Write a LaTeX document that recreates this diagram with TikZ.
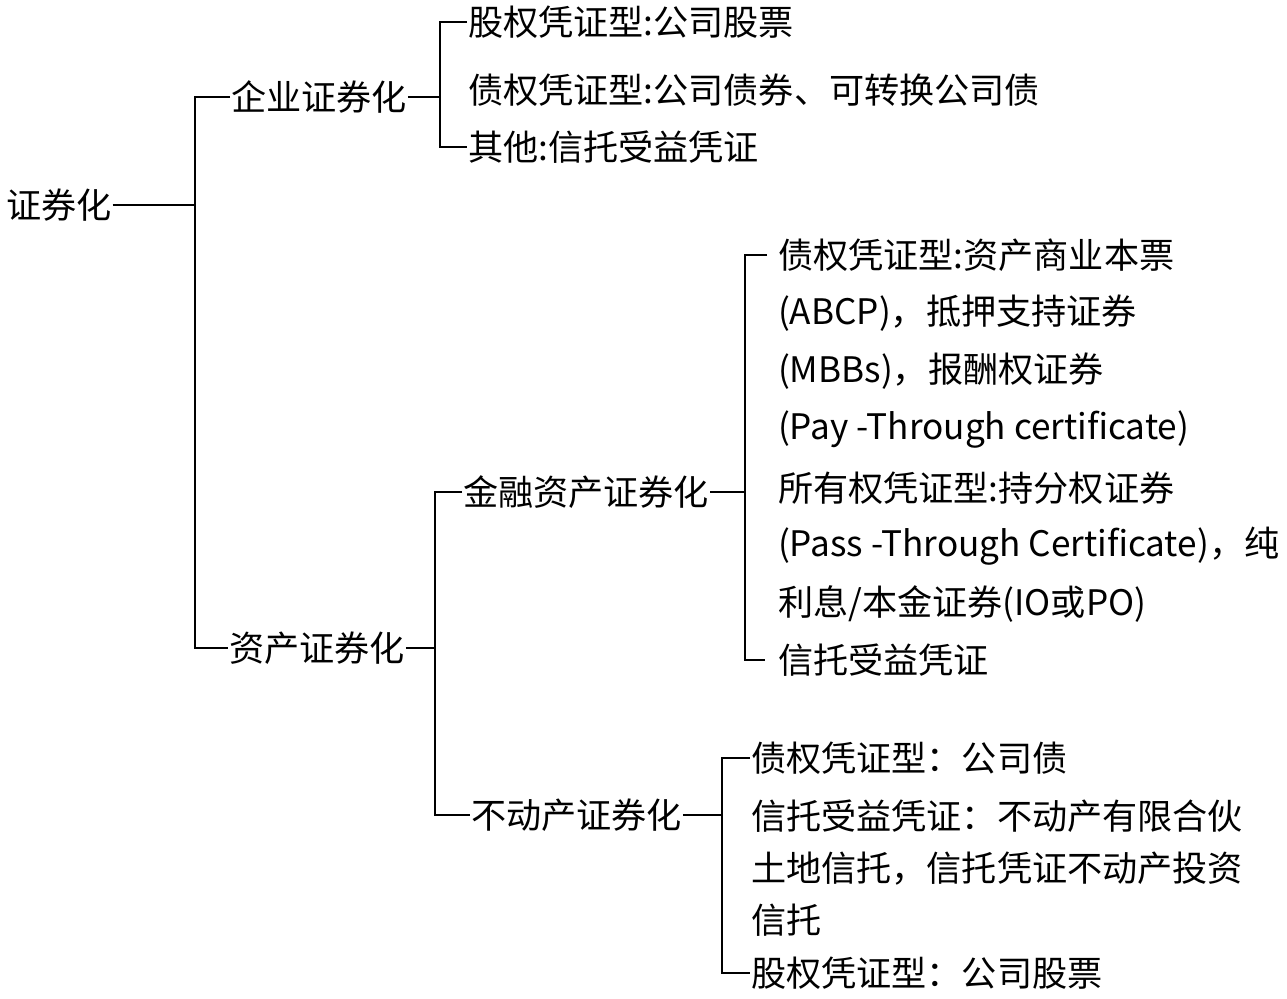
\documentclass[tikz,border=0pt]{standalone}
\usepackage{fontspec}
\setmainfont{Noto Sans CJK SC}
\begin{document}
\begin{tikzpicture}[x=0.02cm,y=-0.02cm,line width=1.2pt,
  txt/.style={anchor=west,inner sep=0pt,font=\fontsize{20}{24}\selectfont}]
  \useasboundingbox (0,0) rectangle (1287,998);
  % root
  \node[txt] (root) at (5,205) {证券化};
  \node[txt] (qy) at (230,97) {企业证券化};
  \node[txt] (zc) at (228,648) {资产证券化};
  \coordinate (k0) at (195,0);
  \draw (root.east) -- (root.east -| k0);
  \draw (qy.west) -- (qy.west -| k0) -- (zc.west -| k0) -- (zc.west);
  % enterprise
  \node[txt] (q1) at (467,22) {股权凭证型:公司股票};
  \node[txt] (q2) at (467,90) {债权凭证型:公司债券、可转换公司债};
  \node[txt] (q3) at (467,147) {其他:信托受益凭证};
  \coordinate (k1) at (440,0);
  \draw (qy.east) -- (qy.east -| k1);
  \draw (q1.west) -- (q1.west -| k1) -- (q3.west -| k1) -- (q3.west);
  % asset
  \node[txt] (jr) at (462,492) {金融资产证券化};
  \node[txt] (bd) at (470,815) {不动产证券化};
  \coordinate (k2) at (435,0);
  \draw (zc.east) -- (zc.east -| k2);
  \draw (jr.west) -- (jr.west -| k2) -- (bd.west -| k2) -- (bd.west);
  % financial
  \node[txt] (j1) at (777,255) {债权凭证型:资产商业本票};
  \node[txt] (j2) at (777,313) {(ABCP)，抵押支持证券};
  \node[txt] (j3) at (777,371) {(MBBs)，报酬权证券};
  \node[txt] (j4) at (777,430) {(Pay -Through certificate)};
  \node[txt] (j5) at (777,488) {所有权凭证型:持分权证券};
  \node[txt] (j6) at (777,546) {(Pass -Through Certificate)，纯};
  \node[txt] (j7) at (777,604) {利息/本金证券(IO或PO)};
  \node[txt] (j8) at (777,660) {信托受益凭证};
  \coordinate (k3) at (745,0);
  \draw (jr.east) -- (jr.east -| k3);
  \draw (j1.west) ++(-10,0) coordinate (j1t) -- (j1t -| k3) -- (j8.west -| k3) -- ++(20,0);
  % real estate
  \node[txt] (b1) at (750,758) {债权凭证型：公司债};
  \node[txt] (b2) at (750,816) {信托受益凭证：不动产有限合伙};
  \node[txt] (b3) at (750,869) {土地信托，信托凭证不动产投资};
  \node[txt] (b4) at (750,920) {信托};
  \node[txt] (b5) at (750,973) {股权凭证型：公司股票};
  \coordinate (k4) at (722,0);
  \draw (bd.east) -- (bd.east -| k4);
  \draw (b1.west) -- (b1.west -| k4) -- (b5.west -| k4) -- (b5.west);
\end{tikzpicture}
\end{document}
